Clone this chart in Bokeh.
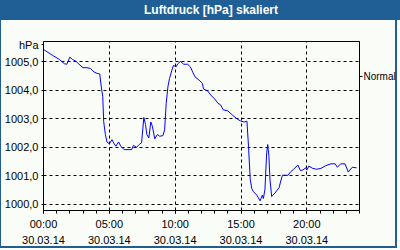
from bokeh.plotting import figure
from bokeh.models import Div, FixedTicker, LinearAxis
from bokeh.layouts import column
from bokeh.embed import file_html
from bokeh.resources import INLINE

title_text = "Luftdruck [hPa] skaliert"
unit_label = "hPa"
unit_pos = 1005.6
normal_label = "Normal"
normal_value = 1004.5

hours = [0, 0.7, 1.2, 1.58, 1.77, 2.0, 2.2, 2.45, 2.7, 3.0, 3.3, 3.57, 3.83, 4.07, 4.27, 4.37,
         4.5, 4.57, 4.7, 4.82, 5.0, 5.2, 5.37, 5.5, 5.7, 5.87, 6.12, 6.7, 6.83, 7.07, 7.27, 7.45,
         7.62, 7.75, 7.85, 8.0, 8.15, 8.27, 8.45, 8.65, 8.82, 9.07, 9.2, 9.32, 9.45, 9.57, 9.75,
         9.87, 10.07, 10.2, 10.4, 10.65, 10.95, 11.15, 11.33, 11.5, 11.82, 12.07, 12.15, 12.45,
         12.7, 13.0, 13.25, 13.45, 13.65, 14.0, 14.33, 14.7, 14.95, 15.25, 15.45, 15.57, 15.7,
         15.82, 15.95, 16.2, 16.45, 16.62, 16.7, 16.82, 16.95, 17.03, 17.12, 17.2, 17.33, 17.57,
         17.9, 18.02, 18.15, 18.57, 18.75, 19.0, 19.32, 19.5, 19.7, 19.9, 20.0, 20.15, 20.45,
         20.75, 21.07, 21.45, 21.83, 22.15, 22.32, 22.57, 22.9, 23.15, 23.45, 23.78]
pressure = [1005.44, 1005.23, 1005.09, 1004.94, 1004.92, 1005.17, 1005.09, 1005.03, 1004.92,
            1004.8, 1004.8, 1004.77, 1004.65, 1004.6, 1004.58, 1004.19, 1003.78, 1002.91, 1002.45,
            1002.19, 1002.12, 1002.27, 1002.12, 1002.04, 1002.19, 1002.04, 1001.92, 1001.92,
            1002.07, 1002.0, 1002.1, 1002.16, 1003.05, 1002.8, 1002.45, 1002.33, 1002.89, 1002.74,
            1002.3, 1002.45, 1002.39, 1002.41, 1002.62, 1003.55, 1004.13, 1004.42, 1004.71,
            1004.88, 1004.83, 1004.94, 1005.02, 1004.92, 1004.92, 1004.83, 1004.65, 1004.48,
            1004.36, 1004.25, 1004.05, 1003.99, 1003.84, 1003.7, 1003.55, 1003.49, 1003.32,
            1003.28, 1003.14, 1003.0, 1002.93, 1002.89, 1002.92, 1002.04, 1000.88, 1000.55,
            1000.44, 1000.32, 1000.12, 1000.32, 1000.2, 1000.53, 1001.81, 1002.1, 1001.69,
            1000.88, 1000.27, 1000.39, 1000.59, 1000.82, 1001.02, 1001.02, 1001.13, 1001.23,
            1001.38, 1001.19, 1001.2, 1001.28, 1001.2, 1001.34, 1001.26, 1001.23, 1001.26,
            1001.36, 1001.42, 1001.42, 1001.3, 1001.42, 1001.42, 1001.13, 1001.3, 1001.28]

x_major = [0, 5, 10, 15, 20]
x_minor = list(range(0, 25))
x_labels = ["00:00\n30.03.14", "05:00\n30.03.14", "10:00\n30.03.14", "15:00\n30.03.14", "20:00\n30.03.14"]
y_major = [1000, 1001, 1002, 1003, 1004, 1005]
y_labels = ["1000,0", "1001,0", "1002,0", "1003,0", "1004,0", "1005,0"]
x_min, x_max = 0, 24
y_min, y_max = 999.78, 1005.72

BLUE = "#1f5f96"
BG = "#fafcf8"
FONT = "Liberation Sans"

header = Div(text=title_text, width=400, height=20, margin=0,
             styles={"background-color": BLUE, "color": "white", "font-weight": "bold",
                     "font-family": FONT, "font-size": "12px", "text-align": "center",
                     "line-height": "20px", "text-indent": "22px"})

p = figure(width=397, height=228, x_range=(x_min, x_max), y_range=(y_min, y_max),
           output_backend="svg", toolbar_location=None,
           min_border_left=40, min_border_right=37, min_border_top=21, min_border_bottom=37,
           background_fill_color=BG, border_fill_color=BG,
           outline_line_color="black", outline_line_width=1)
p.styles = {"border-left": "1px solid " + BLUE, "border-right": "2px solid " + BLUE,
            "border-bottom": "2px solid " + BLUE}

p.line(hours, pressure, line_color="#0000ff", line_width=1)

xa = p.xaxis[0]
xa.ticker = FixedTicker(ticks=x_major, minor_ticks=x_minor)
xa.major_label_overrides = {t: l for t, l in zip(x_major, x_labels)}
xa.major_tick_out = 3
xa.major_tick_in = 0
xa.minor_tick_out = 3
xa.minor_tick_in = 0
xa.major_label_standoff = 4
xa.major_label_text_font = FONT
xa.major_label_text_font_size = "11px"
xa.major_label_text_color = "black"
xa.major_label_text_line_height = 1.36
xa.axis_line_color = "black"
xa.major_tick_line_color = "black"
xa.minor_tick_line_color = "black"

ya = p.yaxis[0]
y_ticks = y_major + [unit_pos]
ya.ticker = FixedTicker(ticks=y_ticks)
y_over = {t: l for t, l in zip(y_major, y_labels)}
y_over[unit_pos] = unit_label
ya.major_label_overrides = y_over
ya.major_tick_out = 2
ya.major_tick_in = 0
ya.minor_tick_out = 0
ya.minor_tick_in = 0
ya.major_label_standoff = 3
ya.major_label_text_font = FONT
ya.major_label_text_font_size = "11px"
ya.major_label_text_color = "black"
ya.axis_line_color = "black"
ya.major_tick_line_color = "black"

ra = LinearAxis(ticker=FixedTicker(ticks=[normal_value]),
                major_label_overrides={normal_value: normal_label},
                major_tick_out=3, major_tick_in=0, minor_tick_out=0, minor_tick_in=0,
                major_label_standoff=1, major_label_text_font=FONT,
                major_label_text_font_size="10px", major_label_text_color="black",
                axis_line_color="black", major_tick_line_color="black")
p.add_layout(ra, "right")

for g in (p.xgrid[0], p.ygrid[0]):
    g.grid_line_color = "black"
    g.grid_line_dash = "3 3"
    g.grid_line_width = 1
p.xgrid[0].ticker = FixedTicker(ticks=x_major)
p.ygrid[0].ticker = FixedTicker(ticks=y_major)

layout = column(header, p, spacing=0)
open("out.html", "w").write(file_html(layout, INLINE))
